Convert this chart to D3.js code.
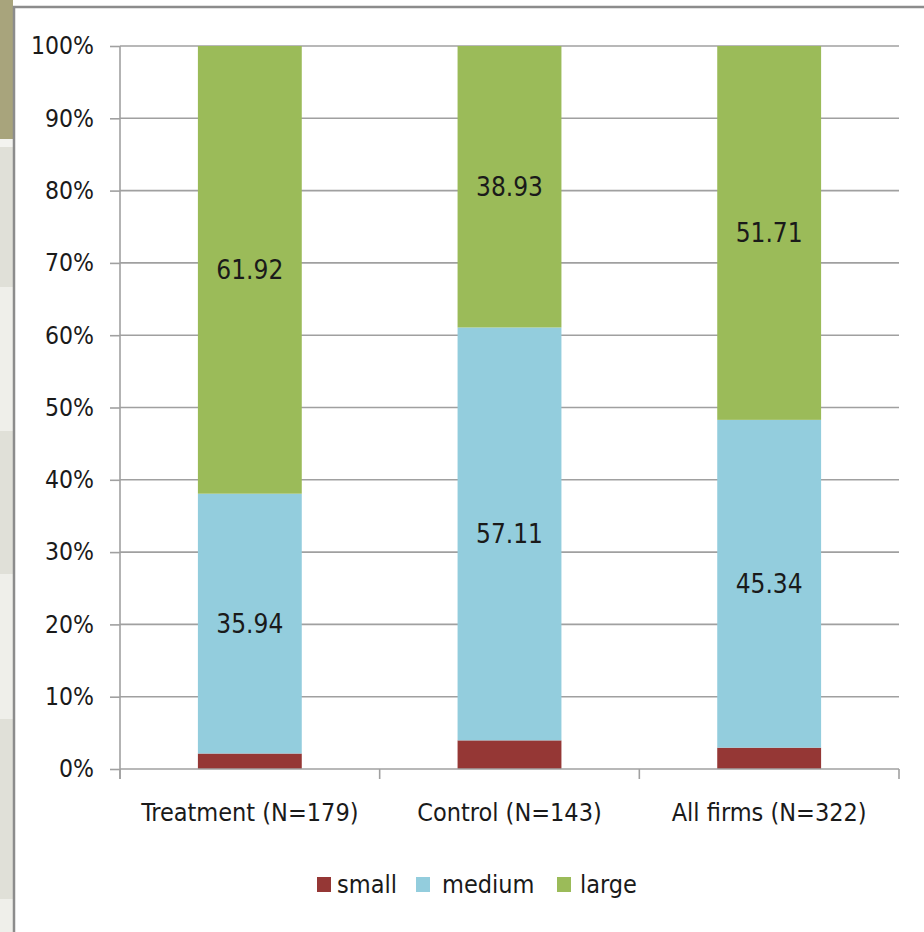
<!DOCTYPE html>
<html>
<head>
<meta charset="utf-8">
<script src="https://cdn.jsdelivr.net/npm/d3@7"></script>
<style>
  html, body { margin: 0; padding: 0; background: #fff; }
  svg { display: block; }
  text { font-family: "Liberation Sans Narrow", "DejaVu Sans Condensed", "Liberation Sans", sans-serif; fill: #1a1a1a; }
</style>
</head>
<body>
<svg id="chart" width="924" height="932"></svg>
<script>
// Firm size distribution (%) by group
const categories = ["Treatment (N=179)", "Control (N=143)", "All firms (N=322)"];
const seriesNames = ["small", "medium", "large"];
const small  = [2.14, 3.96, 2.95];
const medium = [35.94, 57.11, 45.34];
const large  = [61.92, 38.93, 51.71];
const yTicks = [0, 10, 20, 30, 40, 50, 60, 70, 80, 90, 100];
const colors = ["#953735", "#93cddd", "#9bbb59"];

const svg = d3.select("#chart");

// side strip of the slide behind the chart
const strip = [
  [0, 139, "#a8a47c"], [139, 147, "#f3f3ef"], [147, 287, "#e0e0d8"],
  [287, 431, "#efefea"], [431, 574, "#e0e0d8"], [574, 719, "#efefea"],
  [719, 899, "#e0e0d8"], [899, 932, "#efefea"]
];
svg.selectAll("rect.strip").data(strip).join("rect")
  .attr("class", "strip")
  .attr("x", 0).attr("width", 13)
  .attr("y", d => d[0]).attr("height", d => d[1] - d[0])
  .attr("fill", d => d[2]);

// chart frame
svg.append("rect").attr("x", 14).attr("y", 7).attr("width", 930).attr("height", 940)
  .attr("fill", "#fff").attr("stroke", "#8c8c8c").attr("stroke-width", 2.5);

const margin = { left: 120, right: 25, top: 46, bottom: 163 };
const width = 924 - margin.left - margin.right;
const plotH = 932 - margin.top - margin.bottom;

const x = d3.scaleBand().domain(categories).range([margin.left, margin.left + width])
  .paddingInner(0.6).paddingOuter(0.3);
const y = d3.scaleLinear().domain([0, 100]).range([margin.top + plotH, margin.top]);

const rows = categories.map((c, i) => ({ cat: c, small: small[i], medium: medium[i], large: large[i] }));
const stacked = d3.stack().keys(seriesNames)(rows);

// gridlines
svg.append("g").selectAll("line").data(yTicks.filter(t => t > 0)).join("line")
  .attr("x1", margin.left).attr("x2", margin.left + width)
  .attr("y1", d => y(d)).attr("y2", d => y(d))
  .attr("stroke", "#a0a0a0").attr("stroke-width", 1.6);

// bars
const series = svg.append("g").selectAll("g").data(stacked).join("g")
  .attr("fill", (d, i) => colors[i]);
series.selectAll("rect").data(d => d).join("rect")
  .attr("x", d => x(d.data.cat))
  .attr("width", x.bandwidth())
  .attr("y", d => y(d[1]))
  .attr("height", d => y(d[0]) - y(d[1]));

// value labels for medium and large
stacked.filter(s => s.key !== "small").forEach(s => {
  svg.append("g").selectAll("text").data(s).join("text")
    .attr("x", d => x(d.data.cat) + x.bandwidth() / 2)
    .attr("y", d => y((d[0] + d[1]) / 2))
    .attr("dy", "0.35em")
    .attr("text-anchor", "middle")
    .attr("font-size", 26)
    .text(d => d.data[s.key].toFixed(2));
});

// y axis
const yAxis = d3.axisLeft(y).tickValues(yTicks).tickFormat(d => d + "%").tickSize(10).tickPadding(16);
const gy = svg.append("g").attr("transform", `translate(${margin.left},0)`).call(yAxis);
gy.select(".domain").remove();
gy.append("line").attr("x1", 0).attr("x2", 0).attr("y1", y(100)).attr("y2", y(0) + 10)
  .attr("stroke", "#a0a0a0").attr("stroke-width", 1.6);
gy.selectAll(".tick line").attr("stroke", "#a0a0a0").attr("stroke-width", 1.6);
gy.selectAll(".tick text").attr("font-size", 24.5).attr("fill", "#1a1a1a");

// x axis: baseline with ticks at the category boundaries
const xb = svg.append("g");
xb.append("line").attr("x1", margin.left).attr("x2", margin.left + width)
  .attr("y1", y(0)).attr("y2", y(0)).attr("stroke", "#a0a0a0").attr("stroke-width", 1.6);
const step = width / categories.length;
xb.selectAll("line.tk").data(d3.range(categories.length + 1)).join("line")
  .attr("class", "tk")
  .attr("x1", i => margin.left + i * step).attr("x2", i => margin.left + i * step)
  .attr("y1", y(0)).attr("y2", y(0) + 10)
  .attr("stroke", "#a0a0a0").attr("stroke-width", 1.6);
xb.selectAll("text").data(categories).join("text")
  .attr("x", d => x(d) + x.bandwidth() / 2)
  .attr("y", y(0) + 43)
  .attr("dy", "0.35em")
  .attr("text-anchor", "middle")
  .attr("font-size", 25)
  .text(d => d);

// legend
const legendItems = [
  { name: "small", sx: 317, tx: 337 },
  { name: "medium", sx: 416, tx: 442 },
  { name: "large", sx: 557, tx: 580 }
];
const lg = svg.append("g");
legendItems.forEach((it, i) => {
  lg.append("rect").attr("x", it.sx).attr("y", 877).attr("width", 14).attr("height", 15).attr("fill", colors[i]);
  lg.append("text").attr("x", it.tx).attr("y", 884).attr("dy", "0.35em").attr("font-size", 25).text(seriesNames[i]);
});
</script>
</body>
</html>
